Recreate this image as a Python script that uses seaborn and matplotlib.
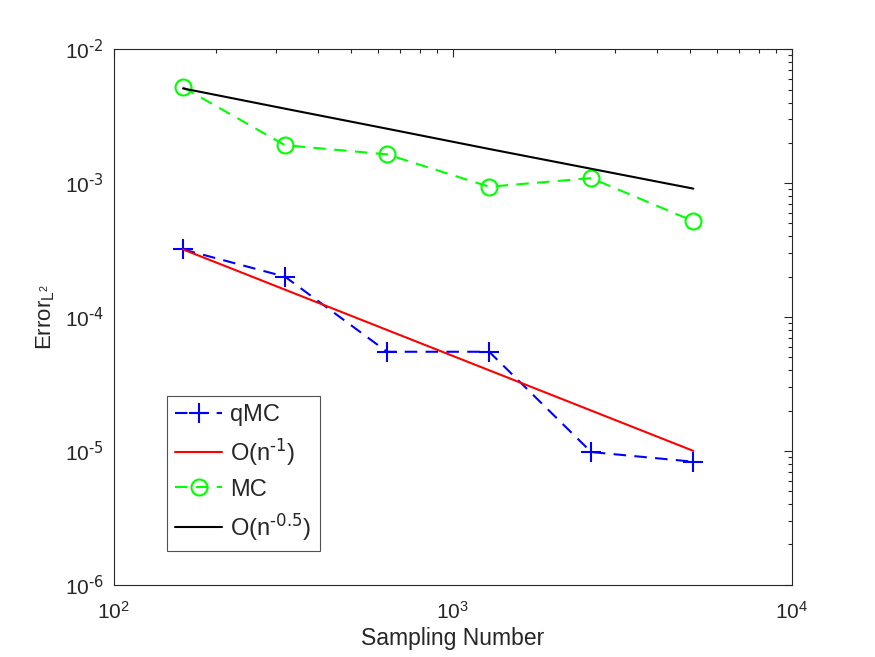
import pandas as pd
import matplotlib
matplotlib.use('Agg')
import matplotlib.pyplot as plt
import seaborn as sns

# Datos
n_samples = [160, 320, 640, 1280, 2560, 5120]
err_qmc = [3.2e-4, 2.0e-4, 5.5e-5, 5.5e-5, 9.8e-6, 8.3e-6]
ref_order1 = [3.2e-4, 1.6e-4, 8.0e-5, 4.0e-5, 2.0e-5, 1.0e-5]
err_mc = [5.2e-3, 1.92e-3, 1.64e-3, 9.4e-4, 1.09e-3, 5.2e-4]
ref_order05 = [5.1e-3, 3.6e-3, 2.55e-3, 1.8e-3, 1.28e-3, 9.1e-4]

labels = ['qMC', r'O(n$^{\text{-1}}$)', 'MC', r'O(n$^{\text{-0.5}}$)']
xticks = [1e2, 1e3, 1e4]
xtick_labels = [r'10$^{2}$', r'10$^{3}$', r'10$^{4}$']
yticks = [1e-6, 1e-5, 1e-4, 1e-3, 1e-2]
ytick_labels = [r'10$^{\text{-6}}$', r'10$^{\text{-5}}$', r'10$^{\text{-4}}$',
                r'10$^{\text{-3}}$', r'10$^{\text{-2}}$']

df = pd.DataFrame({
    'n': n_samples,
    'qmc': err_qmc,
    'ord1': ref_order1,
    'mc': err_mc,
    'ord05': ref_order05,
})

sns.set_style('white')
plt.rcParams['font.family'] = ['Liberation Sans', 'DejaVu Sans']
plt.rcParams['mathtext.default'] = 'regular'
plt.rcParams['axes.unicode_minus'] = False

fig = plt.figure(figsize=(8.75, 6.57), dpi=100)
ax = fig.add_axes([0.13, 0.11, 0.775, 0.815])

sns.lineplot(data=df, x='n', y='qmc', ax=ax, color='#0000ff', linestyle='--',
             marker='+', markersize=14, markeredgewidth=1.5,
             markeredgecolor='#0000ff', linewidth=1.5, label=labels[0])
ax.lines[-1].set_dashes((6, 4))
sns.lineplot(data=df, x='n', y='ord1', ax=ax, color='#ff0000',
             linewidth=1.5, label=labels[1])
sns.lineplot(data=df, x='n', y='mc', ax=ax, color='#00ff00', linestyle='--',
             marker='o', markersize=11.5, markerfacecolor='none',
             markeredgecolor='#00ff00', markeredgewidth=1.5,
             linewidth=1.5, label=labels[2])
ax.lines[-1].set_dashes((6, 4))
sns.lineplot(data=df, x='n', y='ord05', ax=ax, color='#000000',
             linewidth=1.5, label=labels[3])

ax.set_xscale('log')
ax.set_yscale('log')
ax.set_xlim(1e2, 1e4)
ax.set_ylim(1e-6, 1e-2)
ax.set_xticks(xticks, xtick_labels)
ax.set_yticks(yticks, ytick_labels)

ax.set_xlabel('Sampling Number', fontsize=16.5, color='#262626', labelpad=3)
ax.set_ylabel(r'Error$_{L^2}$', fontsize=16, color='#262626', labelpad=6)

for side in ['top', 'right', 'bottom', 'left']:
    ax.spines[side].set_visible(True)
    ax.spines[side].set_color('#262626')
    ax.spines[side].set_linewidth(0.8)
ax.tick_params(which='both', direction='in', top=True, right=True,
               colors='#262626', labelsize=15, width=0.8)
ax.tick_params(which='major', length=6)
ax.tick_params(which='minor', length=3)
ax.tick_params(axis='x', pad=12)
ax.tick_params(axis='y', pad=7)

leg = ax.legend(loc='lower left', bbox_to_anchor=(0.078, 0.063),
                borderaxespad=0, fontsize=17, frameon=True, fancybox=False,
                edgecolor='#262626', handlelength=2.0, handletextpad=0.35,
                labelspacing=0.45, borderpad=0.35)
leg.get_frame().set_linewidth(0.8)

plt.savefig('out.png', dpi=100)
plt.close(fig)
